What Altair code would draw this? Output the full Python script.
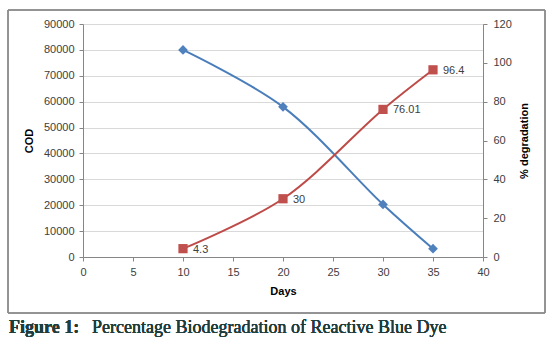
import altair as alt
import pandas as pd

days = [10, 20, 30, 35]
cod = [80000, 58000, 20300, 3200]
degradation = [4.3, 30, 76.01, 96.4]
deg_labels = ["4.3", "30", "76.01", "96.4"]

df = pd.DataFrame({"Days": days, "COD": cod, "deg": degradation, "lab": deg_labels})

W, H = 400, 233
font = "Liberation Sans"

x_enc = alt.X("Days:Q", scale=alt.Scale(domain=[0, 40], nice=False),
              axis=alt.Axis(title="Days", values=list(range(0, 41, 5)), grid=False, format="d",
                            labelOverlap=False, labelFlush=False,
                            tickSize=4, labelPadding=5, titlePadding=8))

y_cod = alt.Y("COD:Q", scale=alt.Scale(domain=[0, 90000], nice=False),
              axis=alt.Axis(title="COD", orient="left", values=list(range(0, 90001, 10000)),
                            format="d", labelOverlap=False, labelFlush=False,
                            tickSize=4, labelPadding=5, titlePadding=9, grid=True))
y_deg = alt.Y("deg:Q", scale=alt.Scale(domain=[0, 120], nice=False),
              axis=alt.Axis(title="% degradation", orient="right", values=list(range(0, 121, 20)),
                            format="d", labelOverlap=False, labelFlush=False,
                            tickSize=4, labelPadding=6, titlePadding=18, titleAngle=270, grid=False))

border = alt.Chart(df).mark_rect(fill="white", fillOpacity=0, stroke="#8c8c8c", strokeWidth=1).encode(
    x=alt.value(-75), x2=alt.value(462), y=alt.value(-14), y2=alt.value(289))

base = alt.Chart(df)

blue_line = base.mark_line(color="#4a7ebb", strokeWidth=2, interpolate="catmull-rom").encode(
    x=x_enc, y=y_cod)
blue_pts = base.mark_point(shape="diamond", filled=True, size=95, color="#4f81bd", opacity=1).encode(
    x=x_enc, y=y_cod)
blue = alt.layer(blue_line, blue_pts)

red_line = base.mark_line(color="#be4b48", strokeWidth=2, interpolate="catmull-rom").encode(
    x=x_enc, y=y_deg)
red_pts = base.mark_point(shape="square", filled=True, size=85, color="#c0504d", opacity=1).encode(
    x=x_enc, y=y_deg)
red_text = base.mark_text(align="left", baseline="middle", dx=10, dy=1, fontSize=11,
                          font=font, color="#404040").encode(x=x_enc, y=y_deg, text="lab:N")
red = alt.layer(red_line, red_pts, red_text)

cap1 = alt.Chart(df).mark_text(text="Figure 1:", align="left", baseline="alphabetic",
                               font="Liberation Serif", fontSize=18, fontWeight="bold",
                               color="#1f3d3d").encode(x=alt.value(-74), y=alt.value(309))
cap2 = alt.Chart(df).mark_text(text="Percentage Biodegradation of Reactive Blue Dye", align="left",
                               baseline="alphabetic", font="Liberation Serif", fontSize=18,
                               color="#1f3d3d").encode(x=alt.value(9), y=alt.value(309))

chart = alt.layer(border, blue, red, cap1, cap2).resolve_scale(y="independent").properties(
    width=W, height=H,
    autosize=alt.AutoSizeParams(type="none"),
    padding={"left": 83, "top": 24, "right": 73, "bottom": 91},
    background="white",
).configure_view(stroke=None).configure_axis(
    labelFont=font, labelFontSize=11, labelColor="#404040",
    titleFont=font, titleFontSize=11, titleFontWeight="bold", titleColor="#000000",
    domainColor="#868686", tickColor="#868686", gridColor="#d9d9d9",
)

chart.save("out.html", embed_options={"renderer": "svg", "actions": False})
